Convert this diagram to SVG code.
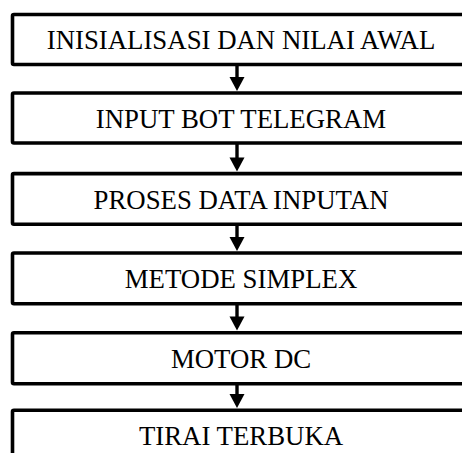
<svg xmlns="http://www.w3.org/2000/svg" width="462" height="453" viewBox="0 0 462 453">
<defs>
<style>
.box{fill:#fff;stroke:#000;stroke-width:3.6;stroke-linejoin:round}
.lbl{font-family:"Liberation Serif","Times New Roman",serif;font-size:26.8px;fill:#000;text-anchor:middle}
.conn{stroke:#000;stroke-width:3.4;fill:none}
.head{fill:#000}
</style>
</defs>
<rect width="462" height="453" fill="#fff"/>
<g id="connectors">
<line class="conn" x1="237" y1="64.5" x2="237" y2="80"/>
<polygon class="head" points="229.5,77 244.5,77 237,91"/>
<line class="conn" x1="237" y1="143" x2="237" y2="160"/>
<polygon class="head" points="229.5,157.5 244.5,157.5 237,171.5"/>
<line class="conn" x1="237" y1="224.3" x2="237" y2="240"/>
<polygon class="head" points="229.5,237 244.5,237 237,251"/>
<line class="conn" x1="237" y1="303.7" x2="237" y2="319"/>
<polygon class="head" points="229.5,316.5 244.5,316.5 237,330.5"/>
<line class="conn" x1="237" y1="383.7" x2="237" y2="398"/>
<polygon class="head" points="229.5,394 244.5,394 237,408"/>
</g>
<g id="n1">
<rect class="box" x="12.5" y="14.5" width="457" height="50" rx="1.5"/>
<text class="lbl" x="241" y="49">INISIALISASI DAN NILAI AWAL</text>
</g>
<g id="n2">
<rect class="box" x="12.5" y="93" width="457" height="50" rx="1.5"/>
<text class="lbl" x="241" y="127.5">INPUT BOT TELEGRAM</text>
</g>
<g id="n3">
<rect class="box" x="12.5" y="173.6" width="457" height="50.7" rx="1.5"/>
<text class="lbl" x="241" y="208.5">PROSES DATA INPUTAN</text>
</g>
<g id="n4">
<rect class="box" x="12.5" y="253" width="457" height="50.7" rx="1.5"/>
<text class="lbl" x="241" y="288">METODE SIMPLEX</text>
</g>
<g id="n5">
<rect class="box" x="12.5" y="332.7" width="457" height="51" rx="1.5"/>
<text class="lbl" x="241" y="367.5">MOTOR DC</text>
</g>
<g id="n6">
<rect class="box" x="12.5" y="410.3" width="457" height="60" rx="1.5"/>
<text class="lbl" x="241" y="445">TIRAI TERBUKA</text>
</g>
</svg>
